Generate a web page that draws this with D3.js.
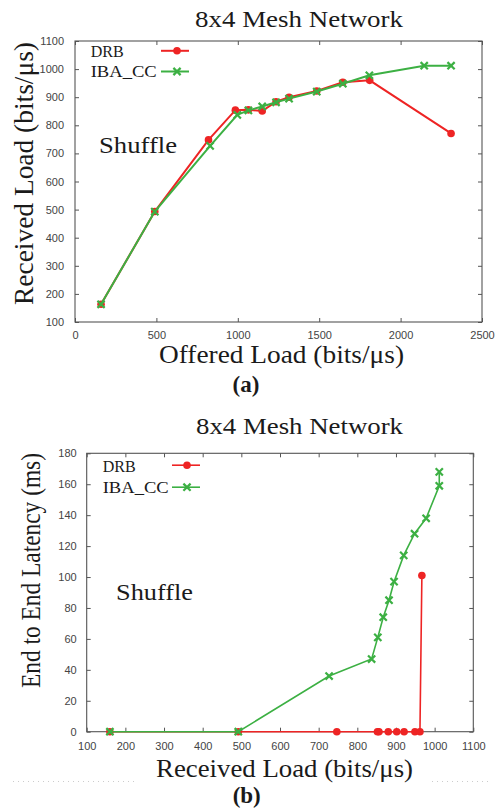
<!DOCTYPE html>
<html>
<head>
<meta charset="utf-8">
<script src="https://cdn.jsdelivr.net/npm/d3@7"></script>
<style>
  body { margin: 0; background: #fff; }
  .tick text { font-family: "Liberation Sans", Arial, sans-serif; font-size: 11px; fill: #444; }
  .tick line { stroke: #555; }
  .serif { font-family: "Liberation Serif", "Times New Roman", serif; fill: #1a1a1a; }
</style>
</head>
<body>
<svg class="chart"></svg>
<script>
// panel (a): offered vs received load
const offeredDRB = [160, 490, 820, 985, 1065, 1150, 1235, 1315, 1485, 1645, 1810, 2310];
const receivedDRB = [163, 493, 748, 854, 855, 851, 884, 900, 922, 953, 960, 771];
const offeredIBA = [160, 490, 830, 997, 1065, 1150, 1235, 1315, 1485, 1645, 1808, 2145, 2310];
const receivedIBA = [163, 493, 727, 837, 853, 867, 882, 895, 920, 948, 978, 1012, 1012];

// panel (b): received load vs latency
const latLoadDRB = [160, 492, 747, 852, 856, 880, 902, 921, 949, 962, 967];
const latencyDRB = [0, 0, 0, 0, 0, 0, 0, 0, 0, 0, 101];
const latLoadIBA = [160, 492, 727, 837, 853, 867, 882, 895, 920, 948, 978, 1012, 1012];
const latencyIBA = [0, 0, 36, 47, 61, 74, 85, 97, 114, 128, 138, 159, 168];

const ticksOffered = [0, 500, 1000, 1500, 2000, 2500];
const ticksReceived = [100, 200, 300, 400, 500, 600, 700, 800, 900, 1000, 1100];
const ticksLatency = [0, 20, 40, 60, 80, 100, 120, 140, 160, 180];

const seriesNames = ["DRB", "IBA_CC"];
const red = "#ee2424";
const green = "#3cb043";

const canvas = {width: 497, height: 811};

const svg = d3.select(".chart")
    .attr("width", canvas.width)
    .attr("height", canvas.height);

function zip(xs, ys) {
    return xs.map(function (x, i) { return [x, ys[i]]; });
}

function serifText(x, y, str, size, len, opts) {
    opts = opts || {};
    const t = svg.append("text")
        .classed("serif", true)
        .attr("x", x)
        .attr("y", y)
        .attr("font-size", size)
        .attr("text-anchor", opts.anchor || "middle")
        .text(str);
    if (len) t.attr("textLength", len).attr("lengthAdjust", "spacingAndGlyphs");
    if (opts.bold) t.attr("font-weight", "bold");
    if (opts.rotate) t.attr("transform", "rotate(-90," + x + "," + y + ")");
    return t;
}

function drawCross(g, x, y, color, s) {
    g.append("path")
        .attr("d", "M" + (x - s) + "," + (y - s) + "L" + (x + s) + "," + (y + s) +
                   "M" + (x - s) + "," + (y + s) + "L" + (x + s) + "," + (y - s))
        .attr("stroke", color)
        .attr("stroke-width", 2.2)
        .attr("fill", "none");
}

function drawFrame(x, y, xTicks, yTicks, labelPadX, labelPadY) {
    const x0 = x.range()[0], x1 = x.range()[1];
    const y0 = y.range()[0], y1 = y.range()[1];
    const fmt = d3.format("d");

    svg.append("g")
        .attr("transform", "translate(0," + y0 + ")")
        .call(d3.axisBottom(x).tickValues(xTicks).tickSize(-4).tickPadding(labelPadX).tickFormat(fmt))
        .call(function (g) { g.select(".domain").remove(); });
    svg.append("g")
        .attr("transform", "translate(0," + y1 + ")")
        .call(d3.axisTop(x).tickValues(xTicks).tickSize(-4).tickFormat(""))
        .call(function (g) { g.select(".domain").remove(); });
    svg.append("g")
        .attr("transform", "translate(" + x0 + ",0)")
        .call(d3.axisLeft(y).tickValues(yTicks).tickSize(-4).tickPadding(labelPadY).tickFormat(fmt))
        .call(function (g) { g.select(".domain").remove(); });
    svg.append("g")
        .attr("transform", "translate(" + x1 + ",0)")
        .call(d3.axisRight(y).tickValues(yTicks).tickSize(-4).tickFormat(""))
        .call(function (g) { g.select(".domain").remove(); });

    svg.append("rect")
        .attr("x", x0)
        .attr("y", y1)
        .attr("width", x1 - x0)
        .attr("height", y0 - y1)
        .attr("fill", "none")
        .attr("stroke", "#555")
        .attr("stroke-width", 1.1);
}

function drawSeries(x, y, pts, color, kind, lw) {
    const g = svg.append("g");
    g.append("path")
        .datum(pts)
        .attr("d", d3.line().x(function (d) { return x(d[0]); }).y(function (d) { return y(d[1]); }))
        .attr("fill", "none")
        .attr("stroke", color)
        .attr("stroke-width", lw);
    pts.forEach(function (d) {
        if (kind === "circle") {
            g.append("circle")
                .attr("cx", x(d[0]))
                .attr("cy", y(d[1]))
                .attr("r", 3.8)
                .attr("fill", color);
        } else {
            drawCross(g, x(d[0]), y(d[1]), color, 3.6);
        }
    });
}

function drawLegend(tx, ty0, ty1, lx0, lx1, mx, lw) {
    const g = svg.append("g");
    serifText(tx, ty0, seriesNames[0], 17, 33, {anchor: "start"});
    serifText(tx, ty1, seriesNames[1], 17, 66, {anchor: "start"});
    const ly0 = ty0 - 6.5, ly1 = ty1 - 5.5;
    g.append("line").attr("x1", lx0).attr("x2", lx1).attr("y1", ly0).attr("y2", ly0)
        .attr("stroke", red).attr("stroke-width", lw);
    g.append("circle").attr("cx", mx).attr("cy", ly0).attr("r", 3.8).attr("fill", red);
    g.append("line").attr("x1", lx0).attr("x2", lx1).attr("y1", ly1).attr("y2", ly1)
        .attr("stroke", green).attr("stroke-width", lw);
    drawCross(g, mx, ly1, green, 3.6);
}

// ---------- panel (a)
const xA = d3.scaleLinear().domain([0, 2500]).range([75, 482]);
const yA = d3.scaleLinear().domain([100, 1100]).range([322, 41]);

serifText(299, 26.7, "8x4 Mesh Network", 24, 208);
drawFrame(xA, yA, ticksOffered, ticksReceived, 9, 11);
drawSeries(xA, yA, zip(offeredDRB, receivedDRB), red, "circle", 2);
drawSeries(xA, yA, zip(offeredIBA, receivedIBA), green, "cross", 2);
drawLegend(90.7, 57.3, 77, 161, 189, 177, 2);
serifText(99, 153, "Shuffle", 24, 78, {anchor: "start"});
serifText(33, 173.5, "Received Load (bits/\u03bcs)", 27, 263, {rotate: true});
serifText(281.5, 363, "Offered Load (bits/\u03bcs)", 25, 245);
serifText(246, 392, "(a)", 23, null, {bold: true});

// ---------- panel (b)
const xB = d3.scaleLinear().domain([100, 1100]).range([86.7, 473.3]);
const yB = d3.scaleLinear().domain([0, 180]).range([731.7, 453.3]);

serifText(299.5, 434, "8x4 Mesh Network", 24, 207);
drawFrame(xB, yB, ticksReceived, ticksLatency, 11, 10);
drawSeries(xB, yB, zip(latLoadDRB, latencyDRB), red, "circle", 1.6);
drawSeries(xB, yB, zip(latLoadIBA, latencyIBA), green, "cross", 1.6);
drawLegend(102.7, 471.7, 492.7, 172, 200, 187, 1.6);
serifText(116, 600, "Shuffle", 24, 77, {anchor: "start"});
serifText(40, 570.5, "End to End Latency (ms)", 27, 235, {rotate: true});
serifText(284.5, 777, "Received Load (bits/\u03bcs)", 25.5, 257);
serifText(246.7, 803, "(b)", 23, null, {bold: true});

// faint scanner rulers under panel (b)
[[13, 137], [432, 492]].forEach(function (seg) {
    svg.append("line")
        .attr("x1", seg[0]).attr("x2", seg[1])
        .attr("y1", 781.5).attr("y2", 781.5)
        .attr("stroke", "#ccc")
        .attr("stroke-width", 1)
        .attr("stroke-dasharray", "1,4");
});
</script>
</body>
</html>
